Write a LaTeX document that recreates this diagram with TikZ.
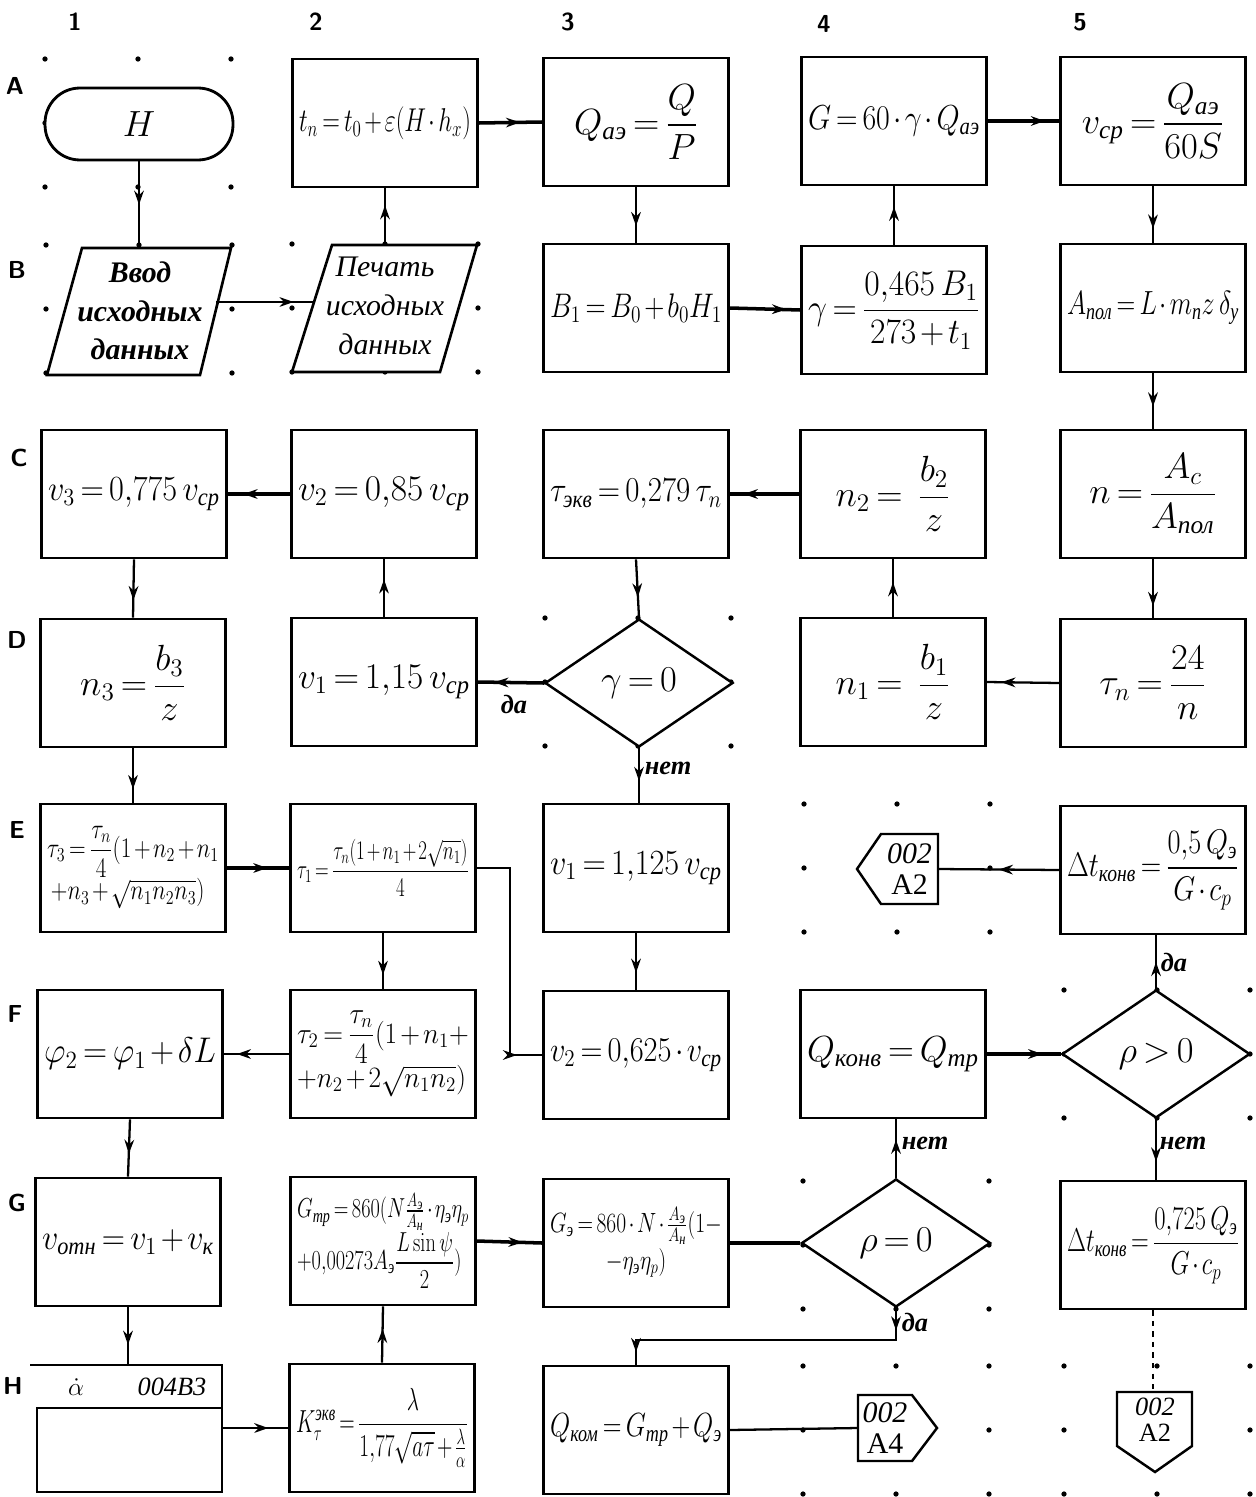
\documentclass[tikz,border=0pt]{standalone}
\usepackage{amsmath}
\usepackage{graphicx}
\usepackage[no-math]{fontspec}
\setmainfont{Liberation Serif}
\usetikzlibrary{arrows.meta,decorations.markings,shapes.geometric}
\medmuskip=2mu plus 1mu minus 1mu
\thickmuskip=3mu plus 2mu
\newcommand{\cy}[1]{\text{\itshape #1}}
\newcommand{\fsz}[2]{\fontsize{#1}{#2}\selectfont}
\newsavebox{\fitb}
\newcommand{\fit}[1]{\sbox{\fitb}{#1}\ifdim\wd\fitb>3.45cm\edef\fw{\the\wd\fitb}\pgfmathsetmacro{\fsx}{97.8/\fw}\pgfmathsetmacro{\fsy}{(\fsx)^0.25}\scalebox{\fsx}[\fsy]{\usebox{\fitb}}\else\usebox{\fitb}\fi}
\newcommand{\twol}[2]{\fit{\begin{tabular}{@{}l@{}}#1\\[3pt]#2\end{tabular}}}
\newcommand{\twoc}[2]{\fit{\begin{tabular}{@{}c@{}}#1\\[3pt]#2\end{tabular}}}
\newcommand{\gdots}[2]{\foreach \dx/\dy in {-93/-64,0/-64,93/-64,-93/0,93/0,-93/64,0/64,93/64}{\fill ({#1+\dx},{#2+\dy}) circle[radius=1.5pt];}}
\begin{document}
\begin{tikzpicture}[x=0.02cm,y=-0.02cm,
  box/.style={draw,line width=1.5pt,fill=white,minimum width=3.7cm,minimum height=2.56cm,inner sep=0pt,align=center},
  dia/.style={draw,diamond,line width=1.4pt,fill=white,inner sep=0pt,minimum width=3.76cm,minimum height=2.56cm},
  conn/.style={line width=1.3pt},
  mid/.style={postaction={decorate},decoration={markings,mark=at position #1 with {\arrow{Stealth[length=8pt,width=5.5pt]}}}},
  mid/.default=0.55,
  lab/.style={font={\fsz{15}{17}\bfseries\itshape}},
  hdr/.style={font={\sffamily\bfseries\fsz{14}{16}}},
  offp/.style={line width=1.4pt},
  ctext/.style={font={\fsz{17}{18}\itshape},align=center,inner sep=0pt},
  big/.style={font={\fsz{20.74}{24}}},
  med/.style={font={\fsz{17.28}{20}}}
]
\useasboundingbox (0,0) rectangle (1255,1497);
\fill[white] (0,0) rectangle (1255,1497);

% grid dots of the empty cells
\gdots{138}{123}
\gdots{139}{309}
\gdots{385}{308}
\gdots{638}{682}
\gdots{897}{868}
\gdots{1157}{1054}
\gdots{896}{1245}
\gdots{896}{1430}
\gdots{1157}{1430}

% column and row labels
\node[hdr] (k1) at (75,22) {1};
\node[hdr] (k2) at (316,22) {2};
\node[hdr] (k3) at (568,22) {3};
\node[hdr] (k4) at (824,24) {4};
\node[hdr] (k5) at (1080,22) {5};
\node[hdr] (rA) at (15,86) {A};
\node[hdr] (rB) at (17,270) {B};
\node[hdr] (rC) at (19,458) {C};
\node[hdr] (rD) at (17,640) {D};
\node[hdr] (rE) at (17,830) {E};
\node[hdr] (rF) at (15,1014) {F};
\node[hdr] (rG) at (17,1203) {G};
\node[hdr] (rH) at (13,1386) {H};

% row A
\node[draw,line width=1.6pt,rounded corners=0.7cm,minimum width=3.76cm,minimum height=1.44cm,fill=white,big] (a1) at (139,124) {$H$};
\node[box,big] (a2) at (385,123) {\fit{$t_n=t_0+\varepsilon(H\cdot h_x)$}};
\node[box,big] (a3) at (636,122) {\fit{$Q_{\cy{аэ}}=\dfrac{Q}{P}$}};
\node[box,big] (a4) at (894,121) {\fit{$G=60\cdot\gamma\cdot Q_{\cy{аэ}}$}};
\node[box,big] (a5) at (1153,121) {\fit{$v_{\cy{ср}}=\dfrac{Q_{\cy{аэ}}}{60S}$}};

% row B
\draw[line width=1.5pt,fill=white] (47,375) -- (82,248) -- (231,248) -- (200,375) -- cycle;
\node[font={\fsz{17}{22}\bfseries\itshape},align=center,inner sep=0pt] (b1) at (140,311) {Ввод\\исходных\\данных};
\draw[line width=1.5pt,fill=white] (292,372) -- (332,245) -- (477,245) -- (440,372) -- cycle;
\node[font={\fsz{17}{22}\itshape},align=center,inner sep=0pt] (b2) at (385,306) {Печать\\исходных\\данных};
\coordinate (b1n) at (139,248);
\coordinate (b1e) at (216,302);
\coordinate (b2w) at (313,302);
\coordinate (b2n) at (385,245);
\node[box,big] (b3) at (636,308) {\fit{$B_1=B_0+b_0H_1$}};
\node[box,big] (b4) at (894,310) {\fit{$\gamma=\dfrac{0{,}465\,B_1}{273+t_1}$}};
\node[box,big] (b5) at (1153,308) {\fit{$A_{\cy{пол}}=L\cdot m_{\cy{п}}z\,\delta_{\cy{у}}$}};

% row C
\node[box,big] (c1) at (134,494) {\fit{$v_3=0{,}775\,v_{\cy{ср}}$}};
\node[box,big] (c2) at (384,494) {\fit{$v_2=0{,}85\,v_{\cy{ср}}$}};
\node[box,big] (c3) at (636,494) {\fit{$\tau_{\cy{экв}}=0{,}279\,\tau_n$}};
\node[box,big] (c4) at (893,494) {\fit{$n_2=\ \dfrac{b_2}{z}$}};
\node[box,big] (c5) at (1153,494) {\fit{$n=\dfrac{A_c}{A_{\cy{пол}}}$}};

% row D
\node[box,big] (d1) at (133,683) {\fit{$n_3=\dfrac{b_3}{z}$}};
\node[box,big] (d2) at (384,682) {\fit{$v_1=1{,}15\,v_{\cy{ср}}$}};
\node[dia,big] (d3) at (639,683) {$\gamma=0$};
\node[box,big] (d4) at (893,682) {\fit{$n_1=\ \dfrac{b_1}{z}$}};
\node[box,big] (d5) at (1153,683) {\fit{$\tau_n=\dfrac{24}{n}$}};

% row E
\node[box,med] (e1) at (133,868) {\twol{$\tau_3=\dfrac{\tau_n}{4}(1+n_2+n_1$}{$\;+n_3+\sqrt{n_1n_2n_3})$}};
\node[box,med] (e2) at (383,868) {\fit{$\tau_1=\dfrac{\tau_n(1+n_1+2\sqrt{n_1})}{4}$}};
\node[box,big] (e3) at (636,868) {\fit{$v_1=1{,}125\,v_{\cy{ср}}$}};
\draw[offp,fill=white] (857,869) -- (881,834) -- (938,834) -- (938,904) -- (881,904) -- cycle;
\node[ctext,minimum width=1.14cm,minimum height=1.4cm] (e4) at (909.5,869) {002\\\upshape A2};
\node[box,big] (e5) at (1153,870) {\fit{$\Delta t_{\cy{конв}}=\dfrac{0{,}5\,Q_{\cy{э}}}{G\cdot c_p}$}};

% row F
\node[box,big] (f1) at (130,1054) {\fit{$\varphi_2=\varphi_1+\delta L$}};
\node[box,med] (f2) at (383,1054) {\twol{$\tau_2=\dfrac{\tau_n}{4}(1+n_1+$}{$+n_2+2\sqrt{n_1n_2})$}};
\node[box,big] (f3) at (636,1055) {\fit{$v_2=0{,}625\cdot v_{\cy{ср}}$}};
\node[box,big] (f4) at (893,1054) {\fit{$Q_{\cy{конв}}=Q_{\cy{тр}}$}};
\node[dia,big] (f5) at (1156,1054) {$\rho>0$};

% row G
\node[box,big] (g1) at (128,1242) {\fit{$v_{\cy{отн}}=v_1+v_{\cy{к}}$}};
\node[box,med] (g2) at (383,1241) {\twol{$G_{\cy{тр}}=860(N\frac{A_{\cy{э}}}{A_{\cy{н}}}\cdot\eta_{\cy{э}}\eta_p$}{$+0{,}00273A_{\cy{э}}\dfrac{L\sin\psi}{2})$}};
\node[box,med] (g3) at (636,1243) {\twoc{$G_{\cy{э}}=860\cdot N\cdot\frac{A_{\cy{э}}}{A_{\cy{н}}}(1-$}{$-\eta_{\cy{э}}\eta_p)$}};
\node[dia,minimum width=3.78cm,big] (g4) at (896,1243) {$\rho=0$};
\node[box,big] (g5) at (1153,1245) {\fit{$\Delta t_{\cy{конв}}=\dfrac{0{,}725\,Q_{\cy{э}}}{G\cdot c_p}$}};

% row H
\coordinate (h1n) at (129,1365);
\coordinate (h1e) at (222,1428);
\draw[line width=1.5pt] (30,1365) -- (222,1365) -- (222,1492) -- (37,1492) -- (37,1408) -- (222,1408);
\node[font={\fsz{15}{17}},inner sep=1pt] (h1a) at (76,1387) {$\dot{\alpha}$};
\node[font={\fsz{15}{17}\itshape},inner sep=1pt] (h1b) at (172,1387) {004B3};
\node[box,big] (h2) at (382,1428) {\fit{$K_\tau^{\cy{экв}}=\dfrac{\lambda}{1{,}77\sqrt{a\tau}+\frac{\lambda}{\alpha}}$}};
\node[box,big] (h3) at (636,1430) {\fit{$Q_{\cy{ком}}=G_{\cy{тр}}+Q_{\cy{э}}$}};
\draw[offp,fill=white] (858,1395) -- (912,1395) -- (937,1428) -- (912,1461) -- (858,1461) -- cycle;
\node[ctext,minimum width=1.08cm,minimum height=1.32cm] (h4) at (885,1428) {002\\\upshape A4};
\draw[offp,fill=white] (1117,1392) -- (1192,1392) -- (1192,1446) -- (1155,1472) -- (1117,1446) -- cycle;
\node[ctext,font={\fsz{15}{15}\itshape},minimum width=1.5cm,minimum height=1.06cm] (h5) at (1155,1420) {002\\\upshape A2};

% connectors
\draw[conn,mid=0.5] (a1.south -| b1n) -- (b1n);
\draw[conn,mid=0.8] (b1e) -- (b2w);
\draw[conn,mid=0.7] (b2n) -- (b2n |- a2.south);
\draw[conn,line width=2pt,mid=0.65] (a2.east) -- (a3.west);
\draw[conn,mid=0.7] (a3.south) -- (b3.north);
\draw[conn,line width=2pt,mid=0.8] (b3.east) -- (b4.west);
\draw[conn,mid=0.65] (b4.north) -- (a4.south);
\draw[conn,line width=2pt,mid=0.8] (a4.east) -- (a5.west);
\draw[conn,mid=0.75] (a5.south) -- (b5.north);
\draw[conn,mid=0.6] (b5.south) -- (c5.north);
\draw[conn,mid=0.8] (c5.south) -- (d5.north);
\draw[conn,mid=0.8] (d5.west) -- (d4.east);
\draw[conn,mid=0.6] (d4.north) -- (c4.south);
\draw[conn,line width=2pt,mid=0.8] (c4.west) -- (c3.east);
\draw[conn,mid=0.65] (c3.south) -- (d3.north);
\draw[conn,line width=2pt,mid=0.75] (d3.west) -- (d2.east);
\draw[conn,mid=0.65] (d2.north) -- (c2.south);
\draw[conn,line width=2pt,mid=0.75] (c2.west) -- (c1.east);
\draw[conn,mid=0.7] (c1.south) -- (d1.north);
\draw[conn,mid=0.75] (d1.south) -- (e1.north);
\draw[conn,line width=1.8pt,mid=0.65] (e1.east) -- (e2.west);
\coordinate (e2f3) at (510,868);
\draw[conn,mid=0.9] (e2.east) -- (e2f3) |- (f3.west);
\draw[conn,mid=0.75] (e2.south) -- (f2.north);
\draw[conn,mid=0.8] (f2.west) -- (f1.east);
\draw[conn,mid=0.6] (f1.south) -- (g1.north);
\draw[conn,mid=0.65] (g1.south) -- (g1.south |- h1n);
\draw[conn,mid=0.7] (h1e) -- (h2.west);
\draw[conn,mid=0.6] (h2.north) -- (g2.south);
\draw[conn,line width=2pt,mid=0.7] (g2.east) -- (g3.west);
\draw[conn,line width=2pt] (g3.east) -- (g4.west);
\coordinate (g4h3) at (636,1340);
\draw[conn,postaction={decorate},decoration={markings,mark=at position 0.07 with {\arrow{Stealth[length=8pt,width=5.5pt]}},mark=at position 0.96 with {\arrow{Stealth[length=8pt,width=5.5pt]}}}] (g4.south) |- (g4h3) -- (h3.north);
\draw[conn] (h3.east) -- (h4.west);
\draw[conn,mid=0.6] (d3.south) -- (d3.south |- e3.north);
\draw[conn,mid=0.7] (e3.south) -- (f3.north);
\draw[conn,line width=2pt,mid=0.75] (f4.east) -- (f5.west);
\draw[conn,mid=0.65] (g4.north) -- (g4.north |- f4.south);
\draw[conn,mid=0.5] (f5.north) -- (f5.north |- e5.south);
\draw[conn,mid=0.5] (e5.west) -- (e4.east);
\draw[conn,mid=0.7] (f5.south) -- (f5.south |- g5.north);
\draw[conn,dashed] (g5.south) -- (g5.south |- h5.north);

% branch labels
\node[lab] (l1) at (514,704) {да};
\node[lab] (l2) at (668,768) {нет};
\node[lab] (l3) at (1174,962) {да};
\node[lab] (l4) at (925,1143) {нет};
\node[lab] (l5) at (1183,1143) {нет};
\node[lab] (l6) at (915,1322) {да};
\end{tikzpicture}
\end{document}
